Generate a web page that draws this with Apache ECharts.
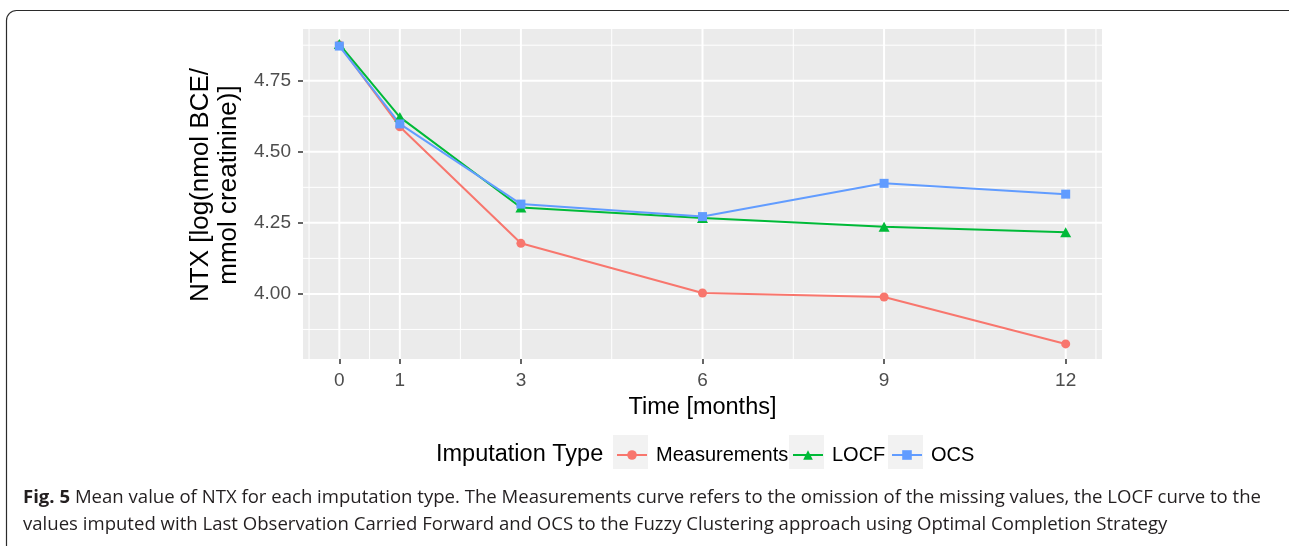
<!DOCTYPE html>
<html>
<head>
<meta charset="utf-8">
<title>Fig. 5</title>
<script src="https://cdn.jsdelivr.net/npm/echarts@6/dist/echarts.min.js"></script>
<style>
  html, body { margin: 0; padding: 0; background: #fff; }
  #main { width: 1289px; height: 546px; }
</style>
</head>
<body>
<div id="main"></div>
<script>
// data
var months = [0, 1, 3, 6, 9, 12];
var measurements = [4.876, 4.588, 4.178, 4.003, 3.989, 3.824];
var locf = [4.879, 4.622, 4.304, 4.267, 4.236, 4.217];
var ocs = [4.872, 4.598, 4.316, 4.272, 4.389, 4.351];

var yTicks = [4.00, 4.25, 4.50, 4.75];
var xMinorTicks = [-0.5, 0.5, 2, 4.5, 7.5, 10.5, 12.5];
var yMinorTicks = [3.875, 4.125, 4.375, 4.625, 4.875];

var xMin = -0.6, xMax = 12.6, yMin = 3.771, yMax = 4.932;

var caption1 = ' Mean value of NTX for each imputation type. The Measurements curve refers to the omission of the missing values, the LOCF curve to the';
var caption2 = 'values imputed with Last Observation Carried Forward and OCS to the Fuzzy Clustering approach using Optimal Completion Strategy';

function pairs(ys) {
  return months.map(function (m, i) { return [m, ys[i]]; });
}

// grid lines drawn through the axes' own scales
function gridSeries(values, dir, width) {
  return {
    type: 'custom',
    silent: true,
    z: 1,
    data: values.map(function (v) { return dir === 'x' ? [v, yMin] : [xMin, v]; }),
    renderItem: function (params, api) {
      var p1, p2;
      if (dir === 'x') {
        p1 = api.coord([api.value(0), yMin]);
        p2 = api.coord([api.value(0), yMax]);
      } else {
        p1 = api.coord([xMin, api.value(1)]);
        p2 = api.coord([xMax, api.value(1)]);
      }
      return {
        type: 'line',
        shape: { x1: p1[0], y1: p1[1], x2: p2[0], y2: p2[1] },
        style: { stroke: '#ffffff', lineWidth: width }
      };
    }
  };
}

// squeeze the caption to the width it has in the figure
var ctx = document.createElement('canvas').getContext('2d');
ctx.font = 'bold 18px "Open Sans"';
var wBold = ctx.measureText('Fig. 5').width;
ctx.font = '18px "Open Sans"';
var wRest = ctx.measureText(caption1).width;
var capScale = 1238 / (wBold + wRest);

var font = '"Liberation Sans", Arial, Helvetica, sans-serif';
var myChart = echarts.init(document.getElementById('main'));

function lineSeries(name, ys, color, symbol, size) {
  return {
    name: name, type: 'line', z: 3,
    data: pairs(ys),
    symbol: symbol, symbolSize: size,
    itemStyle: { color: color },
    lineStyle: { width: 2, color: color }
  };
}

myChart.setOption({
  animation: false,
  grid: {
    left: 303, top: 29, width: 799, height: 330,
    show: true, backgroundColor: '#EBEBEB', borderWidth: 0
  },
  xAxis: {
    type: 'value',
    min: xMin, max: xMax,
    name: 'Time [months]',
    nameLocation: 'middle',
    nameGap: 37,
    nameTextStyle: { fontFamily: font, fontSize: 23.5, color: '#000' },
    axisLine: { show: true, onZero: false, lineStyle: { color: 'rgba(0,0,0,0)' } },
    splitLine: { show: false },
    axisTick: { show: true, customValues: months, length: 5, lineStyle: { color: '#333', width: 1.5 } },
    axisLabel: { customValues: months, margin: 12, fontFamily: font, fontSize: 19, color: '#4D4D4D' }
  },
  yAxis: {
    type: 'value',
    min: yMin, max: yMax,
    name: 'NTX [log(nmol BCE/\nmmol creatinine)]',
    nameLocation: 'middle',
    nameRotate: 90,
    nameGap: 37,
    nameTextStyle: { fontFamily: font, fontSize: 26, lineHeight: 28, color: '#000', padding: [0, 0, 0, 18] },
    axisLine: { show: true, onZero: false, lineStyle: { color: 'rgba(0,0,0,0)' } },
    splitLine: { show: false },
    axisTick: { show: true, customValues: yTicks, length: 5, lineStyle: { color: '#333', width: 1.5 } },
    axisLabel: {
      customValues: yTicks, margin: 12, fontFamily: font, fontSize: 19, color: '#4D4D4D',
      formatter: function (v) { return v.toFixed(2); }
    }
  },
  legend: [
    { data: ['Measurements'], left: 616, top: 445 },
    { data: ['LOCF'], left: 792, top: 445 },
    { data: ['OCS'], left: 891, top: 445 }
  ].map(function (l) {
    l.orient = 'horizontal';
    l.itemWidth = 30;
    l.itemHeight = 12;
    l.padding = 0;
    l.textStyle = { fontFamily: font, fontSize: 20, color: '#000', padding: [0, 0, 0, 4] };
    return l;
  }),
  graphic: [
    {
      type: 'rect', silent: true, z: -1,
      shape: { x: 6.5, y: 10.5, width: 1310, height: 600, r: 10 },
      style: { fill: 'none', stroke: '#2b2b2b', lineWidth: 1.2 }
    },
    { type: 'rect', silent: true, z: -1, shape: { x: 613, y: 435, width: 35, height: 34 }, style: { fill: '#F2F2F2' } },
    { type: 'rect', silent: true, z: -1, shape: { x: 789, y: 435, width: 35, height: 34 }, style: { fill: '#F2F2F2' } },
    { type: 'rect', silent: true, z: -1, shape: { x: 888, y: 435, width: 35, height: 34 }, style: { fill: '#F2F2F2' } },
    {
      type: 'text', left: 436, top: 443,
      style: { text: 'Imputation Type', fontFamily: font, fontSize: 23.5, fill: '#000' }
    },
    {
      type: 'text', x: 23, y: 489, scaleX: capScale,
      style: {
        text: '{b|Fig. 5}' + caption1,
        fontFamily: '"Open Sans"', fontSize: 18, fill: '#231F20',
        rich: { b: { fontFamily: '"Open Sans"', fontSize: 18, fontWeight: 'bold', fill: '#231F20' } }
      }
    },
    {
      type: 'text', x: 23, y: 516, scaleX: capScale,
      style: { text: caption2, fontFamily: '"Open Sans"', fontSize: 18, fill: '#231F20' }
    }
  ],
  series: [
    gridSeries(xMinorTicks, 'x', 1),
    gridSeries(yMinorTicks, 'y', 1),
    gridSeries(months, 'x', 2),
    gridSeries(yTicks, 'y', 2),
    lineSeries('Measurements', measurements, '#F8766D', 'circle', 9),
    lineSeries('LOCF', locf, '#00BA38', 'triangle', [11, 10]),
    lineSeries('OCS', ocs, '#619CFF', 'rect', 9)
  ]
});
</script>
</body>
</html>
